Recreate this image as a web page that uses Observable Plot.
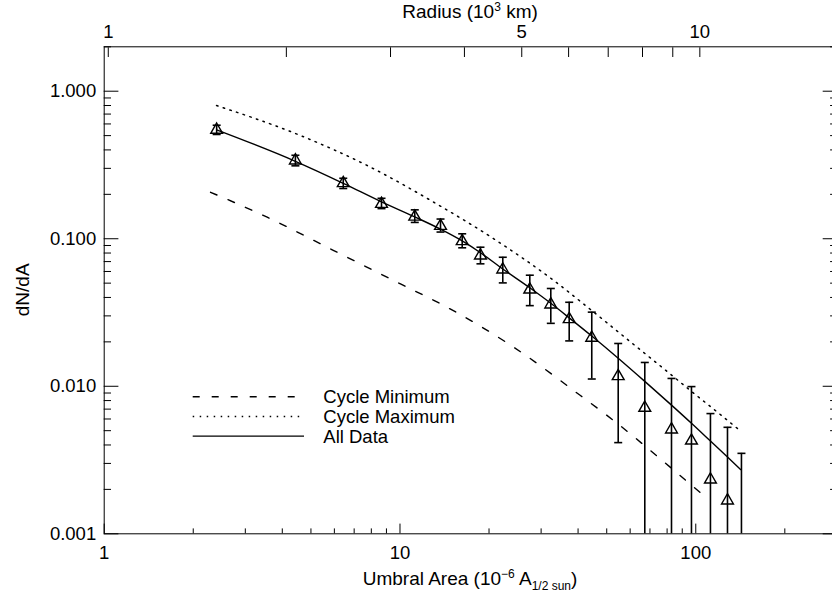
<!DOCTYPE html>
<html><head><meta charset="utf-8">
<script src="https://cdn.jsdelivr.net/npm/d3@7"></script>
<script src="https://cdn.jsdelivr.net/npm/@observablehq/plot@0.6"></script>
<style>
html,body{margin:0;padding:0;background:#fff;overflow:hidden}
#wrap{position:relative;width:832px;height:594px}
svg text{font-family:"Liberation Sans",Arial,Helvetica,sans-serif}
#legend{position:absolute;left:185px;top:380px}
</style></head><body><div id="wrap"></div>
<script>
// ---- data: binned distribution (triangles with error bars) ----
const binArea = [2.40,4.43,6.43,8.66,11.22,13.71,16.23,18.71,22.26,27.47,32.35,37.33,44.50,54.67,67.24,82.78,96.7,112.1,128.0,142.7];
const binValue = [0.547,0.339,0.238,0.172,0.141,0.122,0.0962,0.0769,0.0618,0.0452,0.0358,0.0285,0.0213,0.0117,0.00714,0.00509,0.00428,0.00233,0.00168,null];
const binErrHi = [0.588,0.368,0.257,0.188,0.157,0.136,0.108,0.0876,0.0749,0.0566,0.0460,0.0371,0.0318,0.0195,0.0145,0.0113,0.00995,0.00653,0.00527,0.00351];
const binErrLo = [0.509,0.312,0.219,0.160,0.129,0.111,0.0868,0.0676,0.0502,0.0352,0.0267,0.0203,0.0112,0.00415,null,null,null,null,null,null];

// ---- fitted curves ----
const allArea = [2.40,4.43,6.43,8.66,11.22,13.71,16.23,18.71,22.26,27.47,32.35,37.33,44.5,54.67,67.24,82.78,96.7,112.1,128.0,141.6];
const allValue = [0.547,0.335,0.2377,0.1778,0.1406,0.1161,0.0966,0.0804,0.0624,0.0465,0.0365,0.0291,0.0219,0.01549,0.01079,0.00745,0.00561,0.00425,0.00331,0.00273];
const minArea = [2.288,3.557,5.973,10.04,14.44,24.25,40.75,52.8,82.1,106.4];
const minValue = [0.2066,0.1399,0.0832,0.0494,0.0343,0.01838,0.00865,0.00585,0.00282,0.001815];
const maxArea = [2.398,4.61,7.75,13.01,20.76,33.11,44.5,61.7,82.1,96.7,115.1,142.7];
const maxValue = [0.80,0.5006,0.3135,0.1768,0.0998,0.0521,0.0326,0.01919,0.01208,0.00923,0.00698,0.00492];

// ---- axes ----
const xDomain = [1, 300];
const yDomain = [0.001, 2];
const xMajor = [1, 10, 100];
const xMinorMult = [2,3,4,5,6,7,8,9];
const yMajor = [0.001, 0.01, 0.1, 1];
const yMinorMult = [2,3,4,5,6,7,8,9];
const radiusTicks = [1,2,3,4,5,6,7,8,9,10];
const radiusLabeled = [1, 5, 10];
const legendLabels = ["Cycle Minimum", "Cycle Maximum", "All Data"];
const xTitle = ["Umbral Area (10", "\u22126", " A", "1/2 sun", ")"];
const topTitle = ["Radius (10", "3", " km)"];
const yTitle = "dN/dA";

// derived
const bins = binArea.map((a,i)=>({a, v: binValue[i], hi: binErrHi[i], lo: binErrLo[i]}));
const allFit = allArea.map((a,i)=>({a, v: allValue[i]}));
const minFit = minArea.map((a,i)=>({a, v: minValue[i]}));
const maxFit = maxArea.map((a,i)=>({a, v: maxValue[i]}));
const xMinor = [];
for (const d of [1,10,100]) for (const m of xMinorMult) { const t = d*m; if (t <= xDomain[1]) xMinor.push(t); }
const yMinor = [];
for (const d of [0.001,0.01,0.1,1]) for (const m of yMinorMult) { const t = d*m; if (t <= yDomain[1]) yMinor.push(+t.toPrecision(3)); }
// radius (10^3 km) -> umbral area (10^-6 solar hemisphere), R_sun = 696 x 10^3 km
const RSUN = 696;
const r2a = r => r*r / (2*RSUN*RSUN) * 1e6;
const radiusArea = radiusTicks.map(r2a);
const radiusLabelArea = radiusLabeled.map(r2a);
const radiusLabelMap = new Map(radiusLabelArea.map((a,i)=>[a, String(radiusLabeled[i])]));

const capSymbol = {draw(ctx, size){ const r = Math.sqrt(size/Math.PI); ctx.moveTo(-r,0); ctx.lineTo(r,0); }};

const plot = Plot.plot({
  width: 832, height: 594,
  marginLeft: 103.7, marginRight: -4.4, marginTop: 46.3, marginBottom: 60.7,
  style: {fontFamily: '"Liberation Sans", Arial, Helvetica, sans-serif', fontSize: "18.5px", background: "#fff", color: "#000"},
  x: {type: "log", domain: xDomain, axis: null},
  y: {type: "log", domain: yDomain, axis: null},
  marks: [
    Plot.frame({stroke: "#000", strokeWidth: 1}),
    // bottom axis ticks + labels
    Plot.axisX(xMajor, {anchor: "bottom", tickSize: -9.7, fill: "none", label: null}),
    Plot.axisX(xMinor, {anchor: "bottom", tickSize: -4.9, fill: "none", label: null}),
    Plot.axisX(xMajor, {anchor: "bottom", tickSize: 0, tickPadding: 12, tickFormat: d => String(d), label: null}),
    // top radius axis
    Plot.axisX(radiusArea, {anchor: "top", tickSize: -9.7, fill: "none", label: null}),
    Plot.axisX(radiusLabelArea, {anchor: "top", tickSize: 0, tickPadding: 8.5, tickFormat: d => radiusLabelMap.get(d), label: null}),
    // left and right axes
    Plot.axisY(yMajor, {anchor: "left", tickSize: -14.7, fill: "none", label: null}),
    Plot.axisY(yMinor, {anchor: "left", tickSize: -7.3, fill: "none", label: null}),
    Plot.axisY(yMajor, {anchor: "left", tickSize: 0, tickPadding: 8, tickFormat: d3.format(".3f"), label: null}),
    Plot.axisY(yMajor, {anchor: "right", tickSize: -14.7, fill: "none", label: null}),
    Plot.axisY(yMinor, {anchor: "right", tickSize: -7.3, fill: "none", label: null}),
    // curves
    Plot.line(minFit, {x: "a", y: "v", stroke: "#000", strokeWidth: 1.4, strokeDasharray: "7,12", curve: "monotone-x"}),
    Plot.line(maxFit, {x: "a", y: "v", stroke: "#000", strokeWidth: 1.5, strokeDasharray: "1.5,5.5", curve: "monotone-x"}),
    Plot.line(allFit, {x: "a", y: "v", stroke: "#000", strokeWidth: 1.4, curve: "monotone-x"}),
    // error bars
    Plot.ruleX(bins, {x: "a", y1: d => d.lo ?? yDomain[0], y2: "hi", stroke: "#000", strokeWidth: 1.6}),
    Plot.dot(bins, {x: "a", y: "hi", symbol: capSymbol, r: 4, stroke: "#000", strokeWidth: 1.6}),
    Plot.dot(bins.filter(d => d.lo != null), {x: "a", y: "lo", symbol: capSymbol, r: 4, stroke: "#000", strokeWidth: 1.6}),
    Plot.dot(bins.filter(d => d.v != null), {x: "a", y: "v", symbol: "triangle", r: 4.4, fill: "none", stroke: "#000", strokeWidth: 1.4})
  ]
});

const wrap = document.getElementById("wrap");
wrap.appendChild(plot);

// axis titles with super/subscripts
const svg = d3.select(plot);
const [xr0, xr1] = plot.scale("x").range;
const [yr0, yr1] = plot.scale("y").range;
const xc = (xr0 + xr1) / 2;
const yc = (yr0 + yr1) / 2;

const bt = svg.append("text").attr("x", xc).attr("y", 585).attr("text-anchor", "middle")
  .attr("font-size", 19).attr("fill", "#000");
bt.append("tspan").text(xTitle[0]);
bt.append("tspan").attr("dy", -7).attr("font-size", 12).text(xTitle[1]);
bt.append("tspan").attr("dy", 7).text(xTitle[2]);
bt.append("tspan").attr("dy", 5).attr("font-size", 12).text(xTitle[3]);
bt.append("tspan").attr("dy", -5).text(xTitle[4]);

const tt = svg.append("text").attr("x", xc).attr("y", 18).attr("text-anchor", "middle")
  .attr("font-size", 19).attr("fill", "#000");
tt.append("tspan").text(topTitle[0]);
tt.append("tspan").attr("dy", -7).attr("font-size", 12).text(topTitle[1]);
tt.append("tspan").attr("dy", 7).text(topTitle[2]);

svg.append("text").attr("transform", `translate(29,${yc}) rotate(-90)`).attr("text-anchor", "middle")
  .attr("font-size", 19).attr("fill", "#000").text(yTitle);

// legend
const leg = d3.select(wrap).append("svg").attr("id", "legend").attr("width", 300).attr("height", 70);
const legStyles = [{dash: "7,12", w: 1.4, x2: 115}, {dash: "1.5,5.5", w: 1.5, x2: 119}, {dash: null, w: 1.4, x2: 119}];
legendLabels.forEach((lab, i) => {
  const y = 16.7 + i * 19.7;
  leg.append("line").attr("x1", 7.7).attr("x2", legStyles[i].x2).attr("y1", y).attr("y2", y)
    .attr("stroke", "#000").attr("stroke-width", legStyles[i].w).attr("stroke-dasharray", legStyles[i].dash);
  leg.append("text").attr("x", 138.3).attr("y", y + 6.5).attr("font-size", 18.5).attr("fill", "#000")
    .style("font-family", '"Liberation Sans", Arial, Helvetica, sans-serif').text(lab);
});
</script></body></html>
